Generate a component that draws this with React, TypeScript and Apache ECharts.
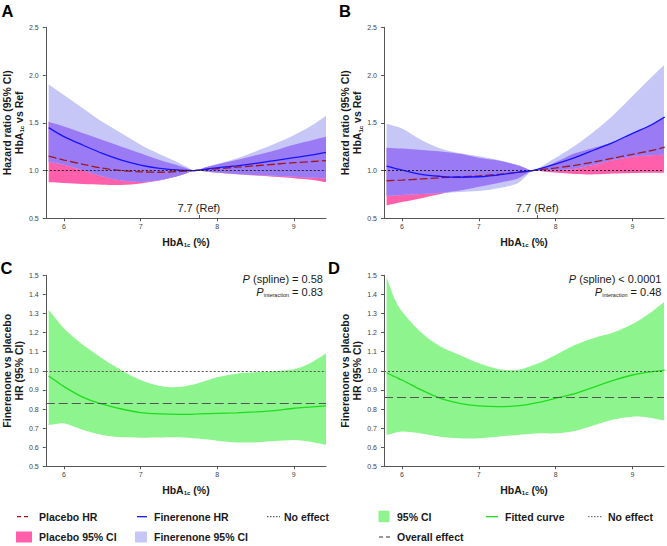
import React, { useEffect, useRef } from 'react';
import * as echarts from 'echarts';

// ---------- data ----------
const XS_AB = [5.8, 6.0, 6.25, 6.5, 6.75, 7.0, 7.25, 7.5, 7.6, 7.7, 7.9, 8.25, 8.5, 8.75, 9.0, 9.25, 9.42];

const A_FIN_HR = [1.45, 1.355, 1.265, 1.18, 1.11, 1.058, 1.023, 1.005, 1.002, 1.0, 1.02, 1.05, 1.075, 1.105, 1.135, 1.165, 1.19];
const A_FIN_LO = [1.093, 1.06, 1.0, 0.94, 0.895, 0.88, 0.9, 0.945, 0.972, 1.0, 0.985, 0.965, 0.953, 0.945, 0.935, 0.925, 0.918];
const A_FIN_HI = [1.9, 1.79, 1.65, 1.51, 1.39, 1.27, 1.17, 1.08, 1.04, 1.0, 1.045, 1.125, 1.2, 1.28, 1.37, 1.48, 1.574];
const A_PL_HR = [1.15, 1.11, 1.065, 1.025, 1.0, 0.987, 0.982, 0.99, 0.995, 1.0, 1.013, 1.035, 1.05, 1.066, 1.082, 1.095, 1.103];
const A_PL_LO = [0.877, 0.87, 0.86, 0.852, 0.85, 0.865, 0.895, 0.945, 0.972, 1.0, 0.985, 0.962, 0.948, 0.935, 0.92, 0.9, 0.877];
const A_PL_HI = [1.51, 1.46, 1.39, 1.32, 1.25, 1.18, 1.11, 1.05, 1.025, 1.0, 1.045, 1.11, 1.16, 1.21, 1.27, 1.32, 1.354];

const B_FIN_HR = [1.047, 1.005, 0.96, 0.94, 0.93, 0.935, 0.953, 0.98, 0.99, 1.0, 1.043, 1.135, 1.215, 1.295, 1.39, 1.48, 1.56];
const B_FIN_LO = [0.735, 0.745, 0.755, 0.765, 0.775, 0.785, 0.815, 0.865, 0.93, 1.0, 0.998, 1.02, 1.06, 1.11, 1.145, 1.16, 1.165];
const B_FIN_HI = [1.49, 1.44, 1.32, 1.23, 1.18, 1.15, 1.11, 1.06, 1.03, 1.0, 1.085, 1.26, 1.41, 1.58, 1.78, 1.98, 2.11];
const B_PL_HR = [0.893, 0.9, 0.912, 0.925, 0.935, 0.945, 0.96, 0.98, 0.99, 1.0, 1.017, 1.055, 1.09, 1.13, 1.17, 1.21, 1.245];
const B_PL_LO = [0.635, 0.67, 0.71, 0.755, 0.79, 0.83, 0.87, 0.915, 0.955, 1.0, 0.985, 0.965, 0.96, 0.968, 0.975, 0.978, 0.978];
const B_PL_HI = [1.24, 1.23, 1.215, 1.2, 1.175, 1.135, 1.105, 1.055, 1.028, 1.0, 1.05, 1.18, 1.24, 1.3, 1.39, 1.49, 1.57];

const XS_CD = [5.8, 5.9, 6.0, 6.25, 6.5, 6.75, 7.0, 7.25, 7.5, 7.75, 8.0, 8.25, 8.5, 8.75, 9.0, 9.2, 9.42];

const C_HR = [0.973, 0.945, 0.917, 0.861, 0.825, 0.8, 0.781, 0.774, 0.772, 0.774, 0.777, 0.78, 0.785, 0.792, 0.804, 0.81, 0.816];
const C_LO = [0.716, 0.722, 0.725, 0.69, 0.664, 0.652, 0.65, 0.651, 0.652, 0.645, 0.634, 0.625, 0.625, 0.632, 0.638, 0.63, 0.612];
const C_HI = [1.32, 1.27, 1.222, 1.135, 1.065, 1.003, 0.952, 0.921, 0.915, 0.935, 0.966, 0.985, 0.992, 0.998, 1.008, 1.037, 1.09];
const C_OVERALL = 0.826;

const D_HR = [0.99, 0.97, 0.952, 0.9, 0.856, 0.83, 0.816, 0.812, 0.816, 0.832, 0.856, 0.88, 0.915, 0.95, 0.978, 0.993, 1.004];
const D_LO = [0.664, 0.675, 0.682, 0.672, 0.655, 0.647, 0.647, 0.655, 0.664, 0.672, 0.673, 0.685, 0.715, 0.745, 0.76, 0.756, 0.739];
const D_HI = [1.49, 1.38, 1.31, 1.2, 1.127, 1.083, 1.039, 1.01, 1.004, 1.035, 1.083, 1.135, 1.172, 1.2, 1.245, 1.295, 1.362];
const D_OVERALL = 0.861;

const X_TICKS = [6, 7, 8, 9];
const NO_EFFECT = 1;
const REF_MARK_X = 7.76;
const REF_LABEL = '7.7 (Ref)';
const P_TEXT_C = ['= 0.58', '= 0.83'];
const P_TEXT_D = ['< 0.0001', '= 0.48'];

// ---------- styles ----------
const FONT = '"Liberation Sans", Arial, Helvetica, sans-serif';
const PINK = '#ff5fab';
const LAV = '#c6c6f7';
const PURPLE = '#9b7bf5';
const GREEN_BAND = '#8ef58e';
const GREEN_LINE = '#1fdc1f';
const BLUE = '#1414ff';
const DARKRED = '#a0181c';
const AXIS = '#555';
const TXT = '#1a1a1a';
const SM = 0.3;

const pairs = (xs: number[], ys: number[]) => xs.map((x, i) => [x, ys[i]]);

// confidence band drawn as one smoothed polygon through the axis scales
function band(i: number, xs: number[], lo: number[], hi: number[], color: string) {
  return {
    type: 'custom', xAxisIndex: i, yAxisIndex: i, silent: true,
    data: xs.map((x, k) => [x, lo[k], hi[k]]),
    encode: { x: 0, y: [1, 2] },
    renderItem: (params: any, api: any) => {
      if (params.dataIndex !== 0) return null;
      const n = xs.length;
      const top = xs.map((x, k) => api.coord([x, hi[k]]));
      const bot = xs.map((x, k) => api.coord([x, lo[k]])).reverse();
      // duplicate the four end corners so the end edges stay straight
      const pts = [top[0], ...top, top[n - 1], bot[0], ...bot, bot[n - 1]];
      const cs = params.coordSys;
      return {
        type: 'polygon',
        shape: { points: pts, smooth: SM },
        style: { fill: color },
        clipPath: { type: 'rect', shape: { x: cs.x, y: cs.y, width: cs.width, height: cs.height } },
      };
    },
  };
}

const nameRich = {
  b: { fontSize: 10.5, fontWeight: 'bold', color: TXT, fontFamily: FONT, lineHeight: 12.5 },
  s: { fontSize: 6, fontWeight: 'bold', color: TXT, fontFamily: FONT, lineHeight: 2, verticalAlign: 'bottom' },
};

function xAxisCfg(i: number, min: number, max: number) {
  return {
    type: 'value', gridIndex: i, min, max,
    name: '{b|HbA}{s|1c}{b| (%)}', nameLocation: 'middle', nameGap: 17.5, nameMoveOverlap: false,
    nameTextStyle: { rich: nameRich },
    axisLine: { show: true, onZero: false, lineStyle: { color: AXIS, width: 1 } },
    axisTick: { show: true, length: 3, customValues: X_TICKS, lineStyle: { color: AXIS } },
    axisLabel: { customValues: X_TICKS, fontSize: 7, color: '#444', margin: 5, fontFamily: FONT },
    splitLine: { show: false },
  };
}

function yAxisCfg(i: number, max: number, interval: number, name: string) {
  return {
    type: 'value', gridIndex: i, min: 0.5, max, interval,
    name, nameLocation: 'middle', nameGap: 20.5, nameRotate: 90, nameMoveOverlap: false,
    nameTextStyle: { rich: nameRich },
    axisLine: { show: true, onZero: false, lineStyle: { color: AXIS, width: 1 } },
    axisTick: { show: true, length: 3, lineStyle: { color: AXIS } },
    axisLabel: { fontSize: 7, color: '#444', margin: 7, fontFamily: FONT, formatter: (v: number) => v.toFixed(1) },
    splitLine: { show: false },
  };
}

function hrPanel(i: number, fHR: number[], fLo: number[], fHi: number[], pHR: number[], pLo: number[], pHi: number[]) {
  const ovLo = XS_AB.map((_, k) => Math.max(fLo[k], pLo[k]));
  const ovHi = XS_AB.map((_, k) => Math.min(fHi[k], pHi[k]));
  return [
    band(i, XS_AB, pLo, pHi, PINK),
    band(i, XS_AB, fLo, fHi, LAV),
    band(i, XS_AB, ovLo, ovHi, PURPLE),
    {
      type: 'line', xAxisIndex: i, yAxisIndex: i, data: [], silent: true,
      markLine: {
        symbol: ['none', 'none'], silent: true, animation: false,
        data: [
          { yAxis: NO_EFFECT, lineStyle: { color: '#222', type: [2, 2], width: 1 }, label: { show: false } },
          [
            {
              coord: [REF_MARK_X, 0.5], lineStyle: { color: AXIS, type: 'solid', width: 1 },
              label: { show: true, position: 'end', formatter: REF_LABEL, color: '#222', fontSize: 11, fontFamily: FONT, distance: 1 },
            },
            { coord: [REF_MARK_X, 0.535] },
          ],
        ],
      },
    },
    {
      type: 'line', xAxisIndex: i, yAxisIndex: i, data: pairs(XS_AB, pHR), symbol: 'none', smooth: SM,
      lineStyle: { color: DARKRED, width: 1.3, type: [8, 3] }, silent: true,
    },
    {
      type: 'line', xAxisIndex: i, yAxisIndex: i, data: pairs(XS_AB, fHR), symbol: 'none', smooth: SM,
      lineStyle: { color: BLUE, width: 1.3 }, silent: true,
    },
  ];
}

function fpPanel(i: number, hr: number[], lo: number[], hi: number[], overall: number) {
  return [
    band(i, XS_CD, lo, hi, GREEN_BAND),
    {
      type: 'line', xAxisIndex: i, yAxisIndex: i, data: [], silent: true,
      markLine: {
        symbol: ['none', 'none'], silent: true, animation: false, label: { show: false },
        data: [
          { yAxis: NO_EFFECT, lineStyle: { color: '#555', type: [2, 2], width: 1 } },
          { yAxis: overall, lineStyle: { color: '#555', type: [9, 4], width: 1.2 } },
        ],
      },
    },
    {
      type: 'line', xAxisIndex: i, yAxisIndex: i, data: pairs(XS_CD, hr), symbol: 'none', smooth: SM,
      lineStyle: { color: GREEN_LINE, width: 1.3 }, silent: true,
    },
  ];
}

function txt(text: string, x: number, y: number, opts: any = {}) {
  return {
    type: 'text', silent: true,
    style: {
      text, x, y, fill: TXT, fontFamily: FONT, fontSize: 10.5, fontWeight: 'bold',
      align: 'left', textAlign: 'left', verticalAlign: 'middle', textVerticalAlign: 'middle',
      ...opts,
    },
  };
}

function hline(x1: number, x2: number, y: number, color: string, dash: any, width = 1.3) {
  return { type: 'line', silent: true, shape: { x1, y1: y, x2, y2: y }, style: { stroke: color, lineWidth: width, lineDash: dash } };
}

function box(x: number, y: number, w: number, h: number, color: string) {
  return { type: 'rect', silent: true, shape: { x, y, width: w, height: h }, style: { fill: color } };
}

const pRich = {
  i: { fontStyle: 'italic', fontSize: 11, fontFamily: FONT, color: TXT, lineHeight: 13 },
  n: { fontSize: 11, fontFamily: FONT, color: TXT, lineHeight: 13 },
  s: { fontSize: 5.5, fontFamily: FONT, color: TXT, lineHeight: 2, verticalAlign: 'bottom' },
};

function pAnn(xRight: number, vals: string[]) {
  return [
    txt(`{i|P}{n| (spline) ${vals[0]}}`, xRight, 279, { align: 'right', textAlign: 'right', fontWeight: 'normal', fontSize: 11, rich: pRich }),
    txt(`{i|P}{s|interaction}{n| ${vals[1]}}`, xRight, 291.5, { align: 'right', textAlign: 'right', fontWeight: 'normal', fontSize: 11, rich: pRich }),
  ];
}

const letter = (t: string, x: number, y: number) => txt(t, x, y, { fontSize: 16.5, fill: '#000' });

const graphics = [
  letter('A', 1.5, 11), letter('B', 339, 11), letter('C', 0.5, 268), letter('D', 328, 268),
  ...pAnn(323, P_TEXT_C), ...pAnn(661.5, P_TEXT_D),
  // left legend
  hline(17, 30, 516.7, DARKRED, [4, 3]), txt('Placebo HR', 39, 516.7),
  hline(137, 147, 516.7, BLUE, null), txt('Finerenone HR', 154, 516.7),
  hline(267, 280, 516.7, '#333', [1.5, 1.5], 1), txt('No effect', 284, 516.7),
  box(16, 531.5, 16, 11, PINK), txt('Placebo 95% CI', 39, 537),
  box(135, 531.5, 12, 11, LAV), txt('Finerenone 95% CI', 154, 537),
  // right legend
  box(378.5, 510.7, 11, 11.5, GREEN_BAND), txt('95% CI', 397, 516.7),
  hline(486, 498, 516.7, GREEN_LINE, null), txt('Fitted curve', 505, 516.7),
  hline(588, 603, 516.7, '#555', [1.5, 1.5], 1), txt('No effect', 608, 516.7),
  hline(379, 390, 537, '#333', [4, 3], 1.2), txt('Overall effect', 397, 537),
];

const Y_NAME_AB = '{b|Hazard ratio (95% CI)}\n{b|HbA}{s|1c}{b| vs Ref}';
const Y_NAME_CD = '{b|Finerenone vs placebo}\n{b|HR (95% CI)}';

const option = {
  animation: false,
  textStyle: { fontFamily: FONT },
  grid: [
    { left: 45, top: 27.3, width: 281, height: 191, containLabel: false },
    { left: 384, top: 27.3, width: 280, height: 191, containLabel: false },
    { left: 45, top: 275.3, width: 281, height: 191, containLabel: false },
    { left: 384, top: 275.3, width: 280, height: 191, containLabel: false },
  ],
  xAxis: [
    xAxisCfg(0, 5.762, 9.42),
    xAxisCfg(1, 5.766, 9.41),
    xAxisCfg(2, 5.762, 9.42),
    xAxisCfg(3, 5.766, 9.41),
  ],
  yAxis: [
    yAxisCfg(0, 2.5, 0.5, Y_NAME_AB),
    yAxisCfg(1, 2.5, 0.5, Y_NAME_AB),
    yAxisCfg(2, 1.5, 0.1, Y_NAME_CD),
    yAxisCfg(3, 1.5, 0.1, Y_NAME_CD),
  ],
  series: [
    ...hrPanel(0, A_FIN_HR, A_FIN_LO, A_FIN_HI, A_PL_HR, A_PL_LO, A_PL_HI),
    ...hrPanel(1, B_FIN_HR, B_FIN_LO, B_FIN_HI, B_PL_HR, B_PL_LO, B_PL_HI),
    ...fpPanel(2, C_HR, C_LO, C_HI, C_OVERALL),
    ...fpPanel(3, D_HR, D_LO, D_HI, D_OVERALL),
  ],
  graphic: graphics,
};

export default function App() {
  const ref = useRef<HTMLDivElement>(null);
  useEffect(() => {
    const chart = echarts.init(ref.current as HTMLDivElement, null, { renderer: 'svg' });
    chart.setOption(option as any);
    return () => chart.dispose();
  }, []);
  return <div ref={ref} style={{ position: 'absolute', left: 0, top: 0, width: 667, height: 546, background: '#fff' }} />;
}
